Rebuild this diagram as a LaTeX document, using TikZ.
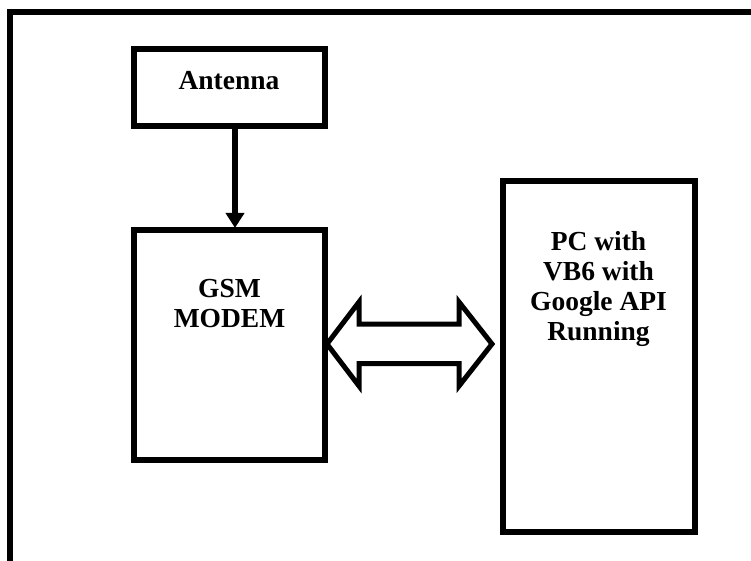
\documentclass[tikz,border=0pt]{standalone}
\usepackage{fontspec}
\setmainfont{Liberation Serif}
\usetikzlibrary{arrows.meta,calc}
\tikzset{
  blk/.style={draw, line width=6pt, inner sep=0pt, outer sep=0pt},
  txt/.style={font=\fontsize{27.5}{30}\selectfont\bfseries, inner sep=0pt, outer sep=0pt},
  feed/.style={line width=6pt, -{Triangle[length=15pt,width=18pt]}},
  link/.style={draw, line width=5pt, line join=miter}
}
\begin{document}
\begin{tikzpicture}[x=1pt,y=-1pt]
  \useasboundingbox (0,0) rectangle (751,561);
  % outer frame, open at the right and the bottom
  \draw[line width=6pt] (760,12) -- (10,12) -- (10,570);

  % blocks
  \node[blk, minimum width=191pt, minimum height=77pt]  (ant) at (229.5,87.5)   {};
  \node[blk, minimum width=191pt, minimum height=230.5pt] (gsm) at (229.5,344.75) {};
  \node[blk, minimum width=192pt, minimum height=350pt] (pc)  at (598.5,356.5)  {};

  % block texts
  \node[txt, anchor=base] (tant) at (229,89.3) {Antenna};
  \node[txt, anchor=base] (tgsm) at (229.5,297.7)
    {\begin{tabular}[t]{@{}c@{}}GSM\\MODEM\end{tabular}};
  \node[txt, anchor=base] (tpc) at (598.5,250)
    {\begin{tabular}[t]{@{}c@{}}PC with\\VB6 with\\Google API\\Running\end{tabular}};

  % antenna feed into the modem
  \draw[feed] ($(ant.south)+(5.5,0)$) -- ($(gsm.north)+(5.5,-1.5)$);

  % two-way link between modem and PC
  \draw[link] (327,344) -- (359,302) -- (359,324) -- (459,324) -- (459,302)
    -- (492,344) -- (459,386) -- (459,363.5) -- (359,363.5) -- (359,386) -- cycle;
\end{tikzpicture}
\end{document}
